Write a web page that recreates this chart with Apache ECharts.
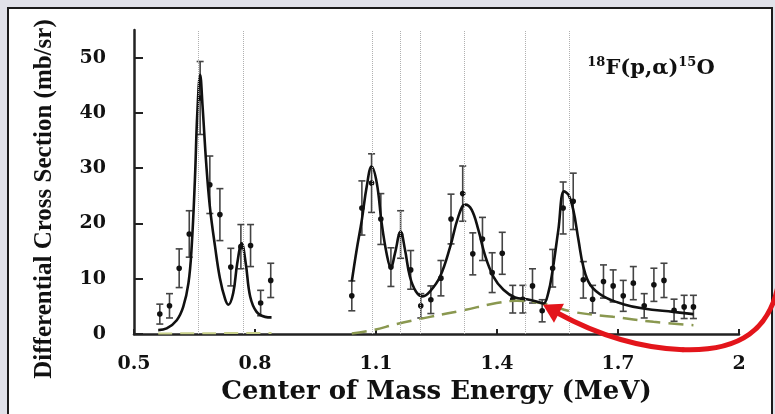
<!DOCTYPE html>
<html><head><meta charset="utf-8">
<script src="https://cdn.jsdelivr.net/npm/echarts@6/dist/echarts.min.js"></script>
<style>
html,body{margin:0;padding:0;background:#e1e2ea;overflow:hidden;width:775px;height:414px;}
#frame{position:absolute;left:7px;top:7px;width:762px;height:420px;border:2px solid #1c1c1c;background:#fff;}
#chart{position:absolute;left:0;top:0;width:775px;height:414px;z-index:1;}
</style>
</head><body><div id="frame"></div><div id="chart"></div>
<script>
// ---- tick values ----
const xTickValues = [0.5, 0.8, 1.1, 1.4, 1.7, 2.0];
const yTickValues = [0, 10, 20, 30, 40, 50];

// ---- measured data points (energy MeV, cross section mb/sr, error) ----
const ptE = [0.564,0.588,0.612,0.637,0.664,0.688,0.713,0.740,0.765,0.789,0.814,0.839,
  1.040,1.065,1.089,1.112,1.137,1.161,1.186,1.211,1.236,1.261,1.286,1.315,1.340,1.364,1.388,1.413,1.439,1.464,1.488,1.512,
  1.538,1.564,1.589,1.614,1.637,1.664,1.688,1.713,1.738,1.765,1.789,1.814,1.839,1.864,1.887];
const ptY = [3.6,5.1,11.9,18.1,42.7,27.0,21.6,12.1,15.8,16.0,5.6,9.7,
  6.9,22.8,27.3,20.8,12.1,18.0,11.6,5.1,6.2,10.1,20.8,25.4,14.5,17.2,11.1,14.6,6.3,6.3,8.7,4.2,
  11.9,22.8,24.0,9.8,6.3,9.5,8.7,6.9,9.2,5.1,8.9,9.7,4.3,4.9,4.9];
const ptErr = [1.8,2.2,3.5,4.2,6.6,5.2,4.7,3.4,4.0,3.8,2.3,3.1,
  2.7,4.9,5.3,4.6,3.5,4.3,3.5,2.2,2.5,3.2,4.5,5.0,3.8,3.9,3.6,3.8,2.5,2.5,3.1,2.0,
  3.4,4.7,5.1,3.3,2.5,3.0,2.9,2.8,3.0,2.2,3.0,3.1,2.0,2.1,2.1];

// ---- R-matrix fit curve (solid black) ----
const fitLowE = [0.560,0.581,0.606,0.622,0.635,0.643,0.651,0.657,0.664,0.670,0.679,0.688,0.701,0.713,0.726,0.734,0.746,0.756,0.767,0.777,0.788,0.804,0.825,0.841];
const fitLowY = [0.7,1.0,2.5,4.9,9.2,15.8,27.9,40.0,46.9,41.2,30.9,23.1,15.8,10.1,6.3,5.3,7.4,12.8,16.4,12.8,6.8,4.0,3.1,3.0];
const fitHighE = [1.040,1.052,1.065,1.077,1.089,1.102,1.114,1.127,1.137,1.147,1.161,1.172,1.184,1.199,1.216,1.234,1.259,1.284,1.304,1.321,1.337,1.354,1.370,1.391,1.416,1.445,1.474,1.498,1.515,1.527,1.538,1.552,1.566,1.577,1.589,1.602,1.614,1.631,1.664,1.713,1.763,1.837,1.887];
const fitHighY = [9.5,15.2,20.7,26.7,30.3,27.3,20.1,14.3,11.9,14.6,18.5,15.2,10.4,7.7,6.8,7.7,10.4,15.8,21.2,23.4,22.5,18.8,14.3,10.4,8.0,6.6,6.3,5.9,5.5,7.4,11.6,18.8,25.8,25.2,22.5,17.0,12.2,8.9,6.8,5.4,4.6,4.0,3.6];

// ---- background contribution (green dashed) ----
const bgLowE = [0.560,0.700,0.841];
const bgLowY = [0.1,0.15,0.2];
const bgHighE = [1.040,1.093,1.151,1.234,1.317,1.399,1.449,1.515,1.589,1.688,1.788,1.887];
const bgHighY = [0.1,0.7,1.8,3.1,4.3,5.6,6.0,5.5,4.0,3.1,2.2,1.6];

// ---- resonance energies (dotted vertical lines) ----
const resonanceE = [0.664,0.767,1.090,1.157,1.208,1.323,1.465,1.580];

// ---- arrow target (data coords) ----
const arrowTarget = [1.514, 5.3];

const zip = (a, b) => a.map((v, i) => [v, b[i]]);

const chart = echarts.init(document.getElementById('chart'), null, {renderer: 'canvas'});

const labelFont = {fontFamily: 'DejaVu Serif', fontWeight: 'bold', fontSize: 19, color: '#111'};

const baseGraphic = [
  {
    type: 'text', x: 45, y: 199, rotation: Math.PI / 2,
    style: {text: 'Differential Cross Section (mb/sr)', fontFamily: 'Liberation Serif', fontWeight: 'bold',
      fontSize: 25, fill: '#111', align: 'center', verticalAlign: 'middle'}
  },
  {
    type: 'text', x: 651, y: 69,
    style: {
      text: '{s|18}{m|F(p,α)}{s|15}{m|O}', align: 'center', verticalAlign: 'middle',
      rich: {
        m: {fontFamily: 'DejaVu Serif', fontWeight: 'bold', fontSize: 21, fill: '#111', lineHeight: 25},
        s: {fontFamily: 'DejaVu Serif', fontWeight: 'bold', fontSize: 13, fill: '#111', lineHeight: 25, verticalAlign: 'top'}
      }
    }
  }
];

const option = {
  backgroundColor: 'transparent',
  animation: false,
  grid: {left: 134, right: 36, top: 30, bottom: 80},
  xAxis: {
    type: 'value', min: 0.5, max: 2.0, interval: 0.3,
    name: 'Center of Mass Energy (MeV)', nameLocation: 'middle', nameGap: 40,
    nameTextStyle: {fontFamily: 'DejaVu Serif', fontWeight: 'bold', fontSize: 26, color: '#111'},
    axisLine: {show: true, onZero: false, lineStyle: {color: '#222', width: 2.5}},
    axisTick: {show: true, inside: true, length: 5, customValues: xTickValues, lineStyle: {color: '#222', width: 2}},
    axisLabel: Object.assign({customValues: xTickValues, margin: 21,
      formatter: v => String(Number(v.toFixed(1)))}, labelFont),
    splitLine: {show: false}
  },
  yAxis: {
    type: 'value', min: 0, max: 55, interval: 10,
    axisLine: {show: true, lineStyle: {color: '#222', width: 2.5}},
    axisTick: {show: true, inside: true, length: 9, customValues: yTickValues, lineStyle: {color: '#222', width: 2}},
    axisLabel: Object.assign({customValues: yTickValues, margin: 28}, labelFont),
    splitLine: {show: false}
  },
  graphic: baseGraphic,
  series: [
    {
      type: 'custom', name: 'data',
      data: ptE.map((e, i) => [e, ptY[i], ptErr[i]]),
      encode: {x: 0, y: 1},
      z: 2,
      renderItem: function (params, api) {
        const x = api.value(0), y = api.value(1), e = api.value(2);
        const c = api.coord([x, y]), t = api.coord([x, y + e]), b = api.coord([x, y - e]);
        const w = 3.5;
        const st = {stroke: '#444', lineWidth: 1.6};
        return {type: 'group', children: [
          {type: 'line', shape: {x1: c[0], y1: t[1], x2: c[0], y2: b[1]}, style: st},
          {type: 'line', shape: {x1: c[0] - w, y1: t[1], x2: c[0] + w, y2: t[1]}, style: st},
          {type: 'line', shape: {x1: c[0] - w, y1: b[1], x2: c[0] + w, y2: b[1]}, style: st},
          {type: 'circle', shape: {cx: c[0], cy: c[1], r: 2.8}, style: {fill: '#111'}}
        ]};
      },
      markLine: {
        silent: true, symbol: ['none', 'none'], label: {show: false},
        lineStyle: {type: 'dotted', color: '#b0b0b0', width: 1},
        data: resonanceE.map(v => ({xAxis: v}))
      }
    },
    {
      type: 'line', name: 'bgLow', data: zip(bgLowE, bgLowY), showSymbol: false, smooth: 0.3, z: 3,
      lineStyle: {color: '#c8d08a', width: 2, type: [14, 8]}
    },
    {
      type: 'line', name: 'bgHigh', data: zip(bgHighE, bgHighY), showSymbol: false, smooth: 0.4, z: 3,
      lineStyle: {color: '#8a9850', width: 2.5, type: [15, 8]}
    },
    {
      type: 'line', name: 'fitLow', data: zip(fitLowE, fitLowY), showSymbol: false, smooth: 0.4, z: 4,
      lineStyle: {color: '#111', width: 2.6}
    },
    {
      type: 'line', name: 'fitHigh', data: zip(fitHighE, fitHighY), showSymbol: false, smooth: 0.4, z: 4,
      lineStyle: {color: '#111', width: 2.6}
    }
  ]
};

chart.setOption(option);

// red annotation arrow anchored at the data point
const tip = chart.convertToPixel({gridIndex: 0}, arrowTarget);
const tx = tip[0], ty = tip[1];
const red = '#e3151b';
const arrowGraphic = [
  {type: 'bezierCurve', z: 10,
    shape: {x1: tx + 236, y1: ty - 24, cpx1: tx + 228, cpy1: ty + 25, cpx2: tx + 197, cpy2: ty + 47, x2: tx + 140, y2: ty + 45},
    style: {stroke: red, lineWidth: 5, fill: null, lineCap: 'round'}},
  {type: 'bezierCurve', z: 10,
    shape: {x1: tx + 140, y1: ty + 45, cpx1: tx + 87, cpy1: ty + 43, cpx2: tx + 45, cpy2: ty + 25, x2: tx + 14, y2: ty + 8},
    style: {stroke: red, lineWidth: 5, fill: null, lineCap: 'round'}},
  {type: 'polygon', z: 11,
    shape: {points: [[tx, ty], [tx + 11, ty + 18], [tx + 21, ty - 1]]},
    style: {fill: red}}
];
chart.setOption({graphic: baseGraphic.concat(arrowGraphic)});
</script>
</body></html>
